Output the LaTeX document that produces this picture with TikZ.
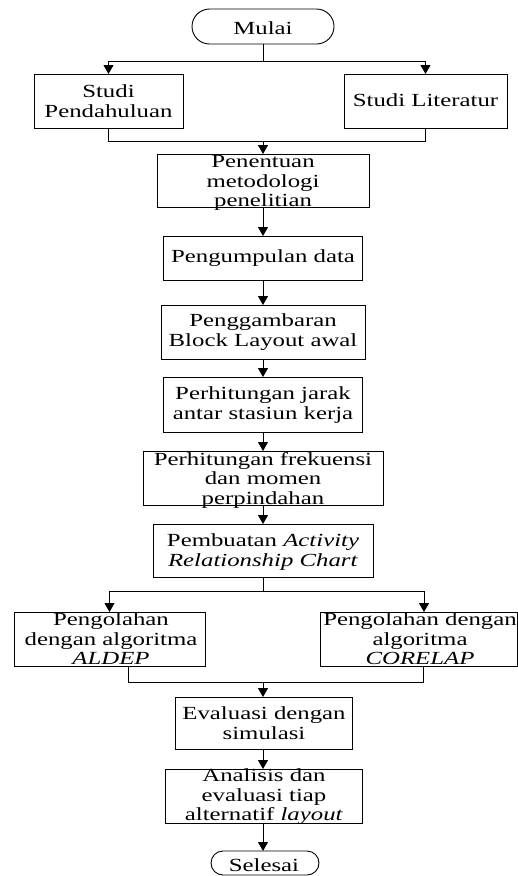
\documentclass[tikz,border=0pt]{standalone}
\usepackage{fontspec}
\setmainfont{Liberation Serif}[FakeStretch=1.34]
\usetikzlibrary{arrows.meta,shapes.misc}
\begin{document}
\begin{tikzpicture}[x=1pt,y=-1pt,
  every path/.style={line width=0.9pt},
  box/.style={draw, line width=0.9pt, inner sep=0pt, outer sep=0pt},
  term/.style={draw, rounded rectangle, line width=0.9pt, inner sep=0pt, outer sep=0pt},
  txt/.style={align=center, inner sep=0pt, font=\fontsize{18.5pt}{19.5pt}\selectfont},
  arr/.style={-{Triangle[width=10pt,length=9pt]}}]
\useasboundingbox (0,0) rectangle (518,876);
% terminals
\node[term, minimum width=142pt, minimum height=35pt] (mulai) at (263,26.5) {};
\node[txt] (mulai-t) at (263,28) {Mulai};
\node[term, minimum width=108pt, minimum height=24pt] (selesai) at (265,863) {};
\node[txt] (selesai-t) at (264,865) {Selesai};
% boxes
\node[box, minimum width=149pt, minimum height=54pt] (sp) at (108.5,101) {};
\node[txt] (sp-t) at (108.5,101) {Studi\\Pendahuluan};
\node[box, minimum width=163pt, minimum height=54pt] (sl) at (425.5,101) {};
\node[txt] (sl-t) at (425.5,100) {Studi Literatur};
\node[box, minimum width=212pt, minimum height=53pt] (pm) at (263,180.5) {};
\node[txt] (pm-t) at (263,183) {Penentuan\\metodologi\\penelitian};
\node[box, minimum width=199pt, minimum height=44pt] (pd) at (263,258) {};
\node[txt] (pd-t) at (263,258) {Pengumpulan data};
\node[box, minimum width=204pt, minimum height=54pt] (pb) at (263,332) {};
\node[txt] (pb-t) at (263,332) {Penggambaran\\Block Layout awal};
\node[box, minimum width=199pt, minimum height=55pt] (pj) at (263,404.5) {};
\node[txt] (pj-t) at (263,405) {Perhitungan jarak\\antar stasiun kerja};
\node[box, minimum width=240pt, minimum height=54pt] (pf) at (263,478) {};
\node[txt] (pf-t) at (263,480) {Perhitungan frekuensi\\dan momen\\perpindahan};
\node[box, minimum width=220pt, minimum height=53pt] (ar) at (263,550.5) {};
\node[txt] (ar-t) at (263,552) {Pembuatan \textit{Activity}\\\textit{Relationship Chart}};
\node[box, minimum width=191pt, minimum height=54pt] (al) at (109.5,639) {};
\node[txt] (al-t) at (111,639) {Pengolahan\\dengan algoritma\\\textit{ALDEP}};
\node[box, minimum width=197pt, minimum height=54pt] (co) at (418.5,639) {};
\node[txt] (co-t) at (420,639) {Pengolahan dengan\\algoritma\\\textit{CORELAP}};
\node[box, minimum width=177pt, minimum height=52pt] (ev) at (264,723) {};
\node[txt] (ev-t) at (264,723) {Evaluasi dengan\\simulasi};
\node[box, minimum width=197pt, minimum height=54pt] (an) at (264,796) {};
\node[txt] (an-t) at (264,797) {Analisis dan\\evaluasi tiap\\alternatif \textit{layout}};
% junctions
\coordinate (j1) at (263,61);
\coordinate (j2) at (263,141);
\coordinate (j3) at (263,591);
\coordinate (j4) at (263,682);
% connectors
\draw (mulai.south -| j1) -- (j1);
\draw[arr] (j1) -| (sp.north);
\draw[arr] (j1) -| (sl.north);
\draw (sp.south) |- (j2);
\draw (sl.south) |- (j2);
\draw[arr] (j2) -- (j2 |- pm.north);
\draw[arr] (pm.south) -- (pd.north);
\draw[arr] (pd.south) -- (pb.north);
\draw[arr] (pb.south) -- (pj.north);
\draw[arr] (pj.south) -- (pf.north);
\draw[arr] (pf.south) -- (ar.north);
\draw (ar.south) -- (j3);
\draw[arr] (j3) -| (al.north);
\draw[arr] (j3) -| ([xshift=5.5pt]co.north);
\draw ([xshift=18.5pt]al.south) |- (j4);
\draw ([xshift=4.5pt]co.south) |- (j4);
\draw[arr] (j4) -- (j4 |- ev.north);
\draw[arr] (ev.south -| j4) -- (j4 |- an.north);
\draw[arr] (an.south -| j4) -- (j4 |- selesai.north);
\end{tikzpicture}
\end{document}
